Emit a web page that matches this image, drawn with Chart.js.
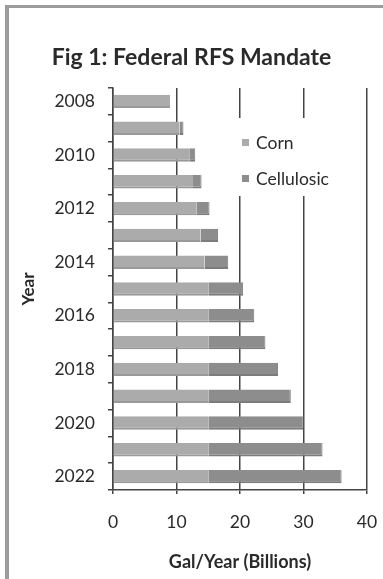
<!DOCTYPE html>
<html><head><meta charset="utf-8">
<script src="https://cdn.jsdelivr.net/npm/chart.js@4/dist/chart.umd.min.js"></script>
<style>
html,body{margin:0;padding:0;background:#fff;}
#wrap{position:relative;width:383px;height:579px;overflow:hidden;}
#frame{position:absolute;left:5px;top:5px;width:400px;height:600px;border-left:4px solid #9c9c9c;border-top:3px solid #9c9c9c;box-sizing:border-box;}
canvas{position:absolute;left:0;top:0;}
</style></head>
<body><div id="wrap"><div id="frame"></div><canvas id="c" width="383" height="579"></canvas></div>
<script>
const years = ['2008','2009','2010','2011','2012','2013','2014','2015','2016','2017','2018','2019','2020','2021','2022'];
const corn = [9.0,10.5,12.0,12.6,13.2,13.8,14.4,15,15,15,15,15,15,15,15];
const cellulosic = [0,0.6,0.95,1.35,2.0,2.75,3.75,5.5,7.25,9.0,11.0,13.0,15.0,18.0,21.0];
const xTicks = [0,10,20,30,40];
const seriesNames = ['Corn','Cellulosic'];

const FONT = 'Lato, "Open Sans", sans-serif';
const GRID = '#444';
const TXT = '#2a2a2a';

const legendInside = {
  id:'legendInside',
  afterDatasetsDraw(chart){
    const ctx = chart.ctx;
    ctx.save();
    ctx.fillStyle = '#fff';
    ctx.fillRect(234,118,100,78);
    ctx.font = '17.5px ' + FONT;
    ctx.textBaseline = 'middle';
    chart.data.datasets.forEach((ds,i)=>{
      const y = 143 + i*36;
      ctx.fillStyle = ds.backgroundColor;
      ctx.fillRect(242, y-4, 7, 7);
      ctx.fillStyle = TXT;
      ctx.fillText(ds.label, 256, y);
    });
    ctx.restore();
  }
};

new Chart(document.getElementById('c'), {
  type:'bar',
  data:{
    labels: years,
    datasets:[
      {label: seriesNames[0], data: corn, backgroundColor:'#ababab', borderColor:'#999', borderWidth:{bottom:2,top:0,left:0,right:0}, borderSkipped:false, barPercentage:0.5, categoryPercentage:1.0},
      {label: seriesNames[1], data: cellulosic, backgroundColor:'#8d8d8d', borderColor:'#7c7c7c', borderWidth:{bottom:2,top:0,left:0,right:1}, borderSkipped:false, barPercentage:0.5, categoryPercentage:1.0}
    ]
  },
  options:{
    indexAxis:'y',
    responsive:false,
    animation:false,
    layout:{padding:{left:0,right:0,top:0,bottom:0}},
    plugins:{
      legend:{display:false},
      tooltip:{enabled:false},
      title:{display:true, text:'Fig 1: Federal RFS Mandate', color:TXT,
        font:{family:FONT, size:23, weight:'bold', lineHeight:1.0}, padding:{top:46,bottom:19}}
    },
    scales:{
      x:{
        stacked:true, min:0, max:40,
        afterBuildTicks: s => { s.ticks = xTicks.map(v=>({value:v})); },
        grid:{color:GRID, lineWidth:1.5, tickLength:4, drawTicks:true},
        border:{display:true, color:GRID, width:1.5},
        ticks:{color:TXT, font:{family:FONT, size:17.5}, padding:18},
        title:{display:true, text:'Gal/Year (Billions)', color:TXT,
          font:{family:FONT, size:18, weight:'bold', lineHeight:1.2}, padding:{top:0,bottom:6}},
        afterFit: s => { s.height = 89; s.paddingRight = 16; s.paddingLeft = 0; }
      },
      y:{
        stacked:true,
        grid:{offset:true, drawOnChartArea:false, color:GRID, lineWidth:1.5, tickLength:5},
        border:{display:true, color:GRID, width:1.5},
        ticks:{autoSkip:false, color:TXT, font:{family:FONT, size:17.5}, padding:13,
          callback:function(v,i){ return i%2===0 ? this.getLabelForValue(v) : ''; }},
        title:{display:true, text:'Year', color:TXT,
          font:{family:FONT, size:17, weight:'bold', lineHeight:1.2}, padding:{top:18,bottom:0}},
        afterFit: s => { s.width = 113; }
      }
    }
  },
  plugins:[legendInside]
});
</script>
</body></html>
